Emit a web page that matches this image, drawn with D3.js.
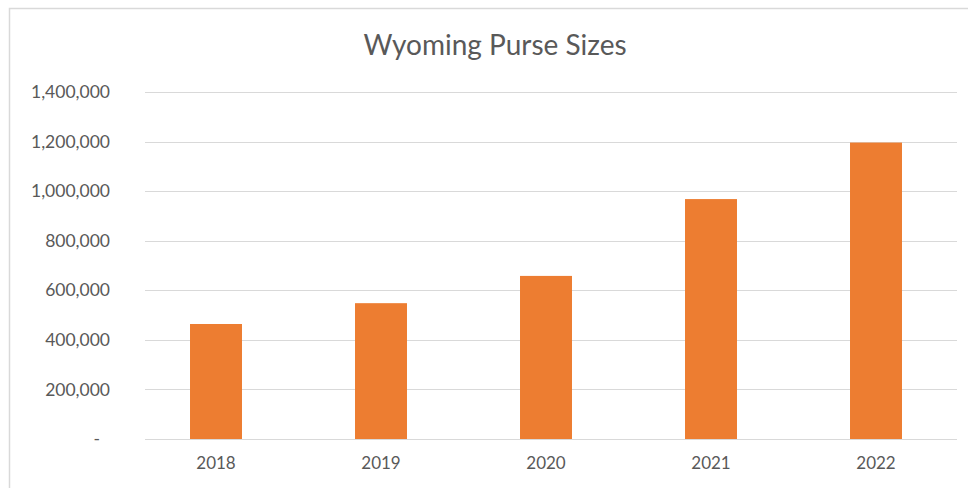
<!DOCTYPE html>
<html>
<head>
<meta charset="utf-8">
<script src="https://cdn.jsdelivr.net/npm/d3@7"></script>
<style>
  html, body { margin: 0; padding: 0; background: #fff; }
  svg { display: block; }
</style>
</head>
<body>
<svg id="chart" width="968" height="488"></svg>
<script>
const title = "Wyoming Purse Sizes";
const categories = ["2018", "2019", "2020", "2021", "2022"];
const values = [464000, 548000, 658000, 968000, 1196000];
const yTicks = [0, 200000, 400000, 600000, 800000, 1000000, 1200000, 1400000];

const svg = d3.select("#chart");
const W = 968, H = 488;
const font = "Lato, 'Open Sans', sans-serif";

// chart border
svg.append("rect")
  .attr("x", 9.5).attr("y", 8.5)
  .attr("width", W + 10).attr("height", H + 10)
  .attr("fill", "#fff").attr("stroke", "#d9d9d9").attr("stroke-width", 1.5);

const plot = { left: 145, right: 957, top: 92, bottom: 439 };

const x = d3.scaleBand()
  .domain(categories)
  .range([133.5, 958.5])
  .paddingInner(0.685)
  .paddingOuter(0.3425);

const y = d3.scaleLinear()
  .domain([0, 1400000])
  .range([plot.bottom, plot.top]);

// gridlines
svg.append("g")
  .selectAll("line")
  .data(yTicks)
  .join("line")
  .attr("x1", plot.left).attr("x2", plot.right)
  .attr("y1", d => Math.round(y(d)) + 0.5)
  .attr("y2", d => Math.round(y(d)) + 0.5)
  .attr("stroke", "#d9d9d9")
  .attr("stroke-width", 1);

// bars
svg.append("g")
  .selectAll("rect")
  .data(values)
  .join("rect")
  .attr("x", (d, i) => x(categories[i]))
  .attr("width", x.bandwidth())
  .attr("y", d => y(d))
  .attr("height", d => y(0) - y(d))
  .attr("fill", "#ED7D31");

// y axis
const yAxis = d3.axisLeft(y)
  .tickValues(yTicks)
  .tickSize(0)
  .tickPadding(0)
  .tickFormat(d => d === 0 ? "-" : d3.format(",")(d));

const gy = svg.append("g")
  .attr("transform", "translate(110,0)")
  .call(yAxis);
gy.select(".domain").remove();
gy.selectAll("text")
  .attr("font-family", font)
  .attr("font-size", 17.5)
  .attr("fill", "#595959")
  .attr("dx", d => d === 0 ? -10 : 0);

// x axis
const xAxis = d3.axisBottom(x).tickSize(0).tickPadding(0);
const gx = svg.append("g")
  .attr("transform", `translate(0,${plot.bottom + 18})`)
  .call(xAxis);
gx.select(".domain").remove();
gx.selectAll("text")
  .attr("font-family", font)
  .attr("font-size", 17)
  .attr("fill", "#595959");

// title
svg.append("text")
  .attr("x", 495)
  .attr("y", 55)
  .attr("text-anchor", "middle")
  .attr("font-family", font)
  .attr("font-size", 28)
  .attr("fill", "#595959")
  .text(title);
</script>
</body>
</html>
